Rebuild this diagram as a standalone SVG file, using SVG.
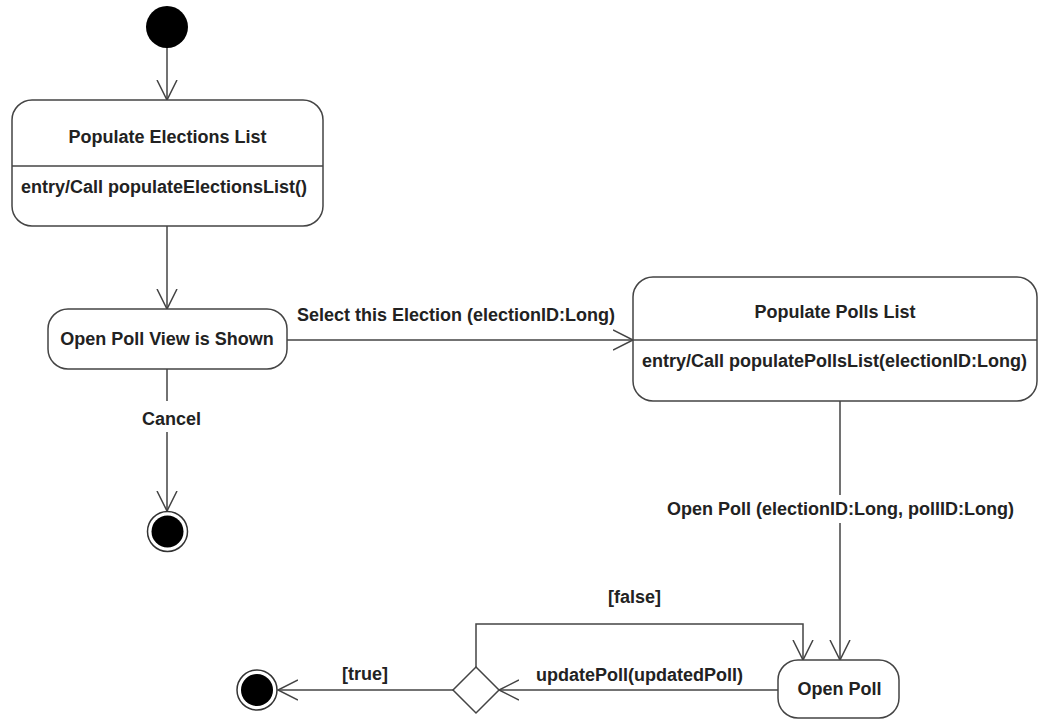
<svg xmlns="http://www.w3.org/2000/svg" width="1039" height="719" viewBox="0 0 1039 719">
  <style>
    .state { fill: #ffffff; stroke: #444444; stroke-width: 1.5; }
    .divider { stroke: #444444; stroke-width: 1.5; }
    .edge { fill: none; stroke: #444444; stroke-width: 1.5; }
    .txt { font-family: "Liberation Sans", Arial, sans-serif; font-size: 18px; font-weight: bold; fill: #222222; }
    .mid { text-anchor: middle; }
    .end { text-anchor: end; }
    .solid { fill: #000000; }
    .ring { fill: #ffffff; stroke: #333333; stroke-width: 1.5; }
  </style>
  <defs>
    <marker id="open-arrow" viewBox="0 0 22 22" refX="20" refY="11" markerWidth="22" markerHeight="22" markerUnits="userSpaceOnUse" orient="auto">
      <path d="M0,1 L20,11 L0,21" fill="none" stroke="#444444" stroke-width="1.5"/>
    </marker>
  </defs>

  <rect width="1039" height="719" fill="#ffffff"/>

  <!-- transitions -->
  <g id="connectors">
    <path class="edge" d="M167,48 L167,100" marker-end="url(#open-arrow)"/>
    <path class="edge" d="M167,226 L167,309" marker-end="url(#open-arrow)"/>
    <path class="edge" d="M287,340 L633,340" marker-end="url(#open-arrow)"/>
    <path class="edge" d="M167,369 L167,401 M167,432 L167,511" marker-end="url(#open-arrow)"/>
    <path class="edge" d="M840,401 L840,495 M840,523 L840,660" marker-end="url(#open-arrow)"/>
    <path class="edge" d="M778,690 L499,690" marker-end="url(#open-arrow)"/>
    <path class="edge" d="M476,667 L476,624 L803,624 L803,660" marker-end="url(#open-arrow)"/>
    <path class="edge" d="M453,690 L278,690" marker-end="url(#open-arrow)"/>

    <text class="txt" x="297" y="321">Select this Election (electionID:Long)</text>
    <text class="txt" x="142" y="425">Cancel</text>
    <text class="txt" x="667" y="515">Open Poll (electionID:Long, pollID:Long)</text>
    <text class="txt" x="608" y="603">[false]</text>
    <text class="txt end" x="743" y="681">updatePoll(updatedPoll)</text>
    <text class="txt" x="342" y="680">[true]</text>
  </g>

  <g id="initial">
    <circle class="solid" cx="167" cy="27" r="21"/>
  </g>

  <g id="populate-elections-list">
    <rect class="state" x="12" y="100" width="311" height="126" rx="20" ry="20"/>
    <line class="divider" x1="12" y1="166" x2="323" y2="166"/>
    <text class="txt mid" x="167.5" y="143">Populate Elections List</text>
    <text class="txt" x="21" y="193">entry/Call populateElectionsList()</text>
  </g>

  <g id="open-poll-view">
    <rect class="state" x="48" y="309" width="239" height="60" rx="20" ry="20"/>
    <text class="txt mid" x="167" y="345">Open Poll View is Shown</text>
  </g>

  <g id="final-cancel">
    <circle class="ring" cx="167.5" cy="531.5" r="20"/>
    <circle class="solid" cx="167.5" cy="531.5" r="16"/>
  </g>

  <g id="populate-polls-list">
    <rect class="state" x="633" y="277" width="404" height="124" rx="20" ry="20"/>
    <line class="divider" x1="633" y1="340" x2="1037" y2="340"/>
    <text class="txt mid" x="835" y="318">Populate Polls List</text>
    <text class="txt" x="642" y="367">entry/Call populatePollsList(electionID:Long)</text>
  </g>

  <g id="open-poll">
    <rect class="state" x="778" y="660" width="121" height="58" rx="20" ry="20"/>
    <text class="txt mid" x="839.5" y="695">Open Poll</text>
  </g>

  <g id="decision">
    <polygon class="state" points="476,667 499,690 476,713 453,690"/>
  </g>

  <g id="final-done">
    <circle class="ring" cx="257" cy="690" r="20"/>
    <circle class="solid" cx="257" cy="690" r="16"/>
  </g>
</svg>
